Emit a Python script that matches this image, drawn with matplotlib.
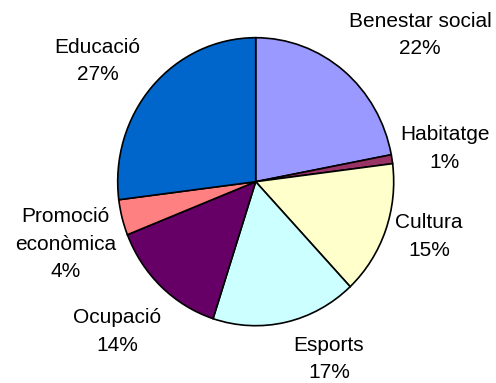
import matplotlib
matplotlib.use("Agg")
import matplotlib.pyplot as plt

categories = ["Benestar social", "Habitatge", "Cultura", "Esports",
              "Ocupació", "Promoció\neconòmica", "Educació"]
shares = [22, 1, 15, 17, 14, 4, 27]
colors = ["#9999FF", "#993366", "#FFFFCC", "#CCFFFF",
          "#660066", "#FF8080", "#0066CC"]

# label anchors in pixels: centre x, baseline of the first line
label_pos = [(420, 26.7), (444.7, 140), (429, 228.3), (329, 350.7),
             (117.5, 323.3), (65.3, 221.7), (97.7, 52.7)]

W, H = 496, 383
cx, cy, rx, ry = 255.7, 181.7, 138, 144
line_gap = 27.8

fig = plt.figure(figsize=(W / 100, H / 100), dpi=100)
ax = fig.add_axes([0, 0, 1, 1])
ax.pie(shares, colors=colors, startangle=90, counterclock=False, radius=1,
       wedgeprops=dict(edgecolor="black", linewidth=1.2))
ax.set_aspect("auto")
ax.set_xlim(-cx / rx, (W - cx) / rx)
ax.set_ylim((cy - H) / ry, cy / ry)
ax.axis("off")

for name, val, (px, py) in zip(categories, shares, label_pos):
    lines = name.split("\n") + [f"{val}%"]
    for i, line in enumerate(lines):
        ax.text(px / W, 1 - (py + i * line_gap) / H, line,
                transform=fig.transFigure, ha="center", va="baseline",
                fontsize=15, family="Liberation Sans", color="black")

fig.savefig("out.png", dpi=100)
